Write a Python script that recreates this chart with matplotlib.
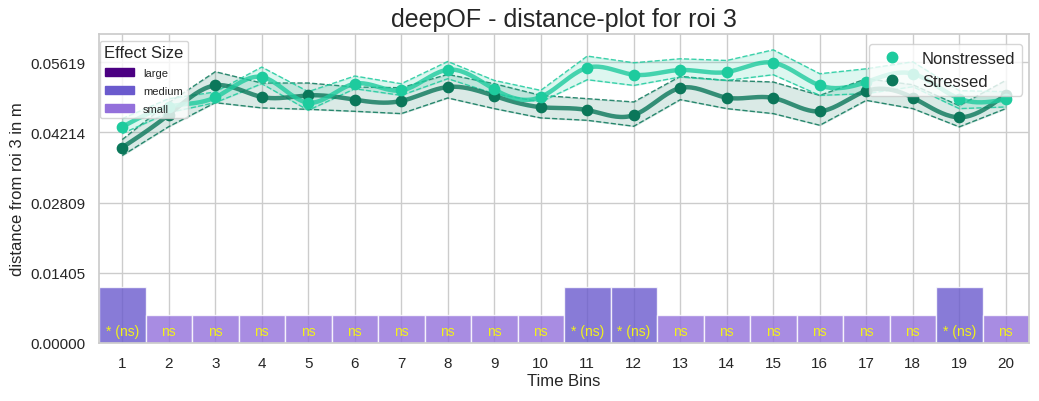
import numpy as np
import matplotlib
matplotlib.use("Agg")
import matplotlib.pyplot as plt
import matplotlib.patches as mpatches
from matplotlib.lines import Line2D
import seaborn as sns

sns.set_theme(style="whitegrid")
plt.rcParams['font.family'] = ['Liberation Sans', 'DejaVu Sans']

# Tidsbinar
bins = list(range(1, 21))

# Nonstressed: medel + konfidensband
ns_mean = [0.04323, 0.04727, 0.04913, 0.05320, 0.04807, 0.05186, 0.05053, 0.05465, 0.05073, 0.04921,
           0.05505, 0.05366, 0.05460, 0.05420, 0.05605, 0.05152, 0.05220, 0.05386, 0.04887, 0.04873]
ns_upper = [0.04488, 0.04887, 0.05021, 0.05519, 0.05027, 0.05340, 0.05186, 0.05631, 0.05252, 0.05053,
            0.05739, 0.05605, 0.05685, 0.05651, 0.05864, 0.05386, 0.05485, 0.05625, 0.05047, 0.05027]
ns_lower = [0.04189, 0.04608, 0.04807, 0.05186, 0.04654, 0.05086, 0.04953, 0.05286, 0.04987, 0.04821,
            0.05266, 0.05152, 0.05320, 0.05252, 0.05366, 0.04953, 0.04987, 0.05126, 0.04688, 0.04721]

# Stressed: medel + konfidensband
st_mean = [0.03910, 0.04568, 0.05152, 0.04921, 0.04953, 0.04867, 0.04841, 0.05120, 0.04941, 0.04717,
           0.04658, 0.04558, 0.05100, 0.04907, 0.04901, 0.04634, 0.05041, 0.04907, 0.04514, 0.04967]
st_upper = [0.04069, 0.04807, 0.05426, 0.05200, 0.05200, 0.05120, 0.05106, 0.05372, 0.05186, 0.04953,
            0.04887, 0.04821, 0.05332, 0.05252, 0.05220, 0.04953, 0.05286, 0.05166, 0.04747, 0.05252]
st_lower = [0.03750, 0.04328, 0.04807, 0.04702, 0.04674, 0.04634, 0.04588, 0.04901, 0.04688, 0.04502,
            0.04454, 0.04335, 0.04867, 0.04688, 0.04588, 0.04355, 0.04853, 0.04688, 0.04323, 0.04688]

# Effektstorlek per bin
effect = ["medium", "small", "small", "small", "small", "small", "small", "small", "small", "small",
          "medium", "medium", "small", "small", "small", "small", "small", "small", "medium", "small"]
bar_labels = ["* (ns)", "ns", "ns", "ns", "ns", "ns", "ns", "ns", "ns", "ns",
              "* (ns)", "* (ns)", "ns", "ns", "ns", "ns", "ns", "ns", "* (ns)", "ns"]
effect_height = {"small": 0.00562, "medium": 0.01124, "large": 0.01686}
effect_color = {"large": "#4B0082", "medium": "#6A5ACD", "small": "#9370DB"}

yticks = [0.0, 0.01405, 0.02809, 0.04214, 0.05619]

col_ns = "#1ECB9E"
col_st = "#0B775A"


def smooth(x, y, n=400):
    """Naturlig kubisk spline genom punkterna (endast för utritning)."""
    x = np.asarray(x, float)
    y = np.asarray(y, float)
    k = len(x)
    h = np.diff(x)
    A = np.zeros((k, k))
    b = np.zeros(k)
    A[0, 0] = A[-1, -1] = 1
    for i in range(1, k - 1):
        A[i, i - 1] = h[i - 1]
        A[i, i] = 2 * (h[i - 1] + h[i])
        A[i, i + 1] = h[i]
        b[i] = 3 * ((y[i + 1] - y[i]) / h[i] - (y[i] - y[i - 1]) / h[i - 1])
    c = np.linalg.solve(A, b)
    xs = np.linspace(x[0], x[-1], n)
    idx = np.clip(np.searchsorted(x, xs) - 1, 0, k - 2)
    dx = xs - x[idx]
    bb = (y[idx + 1] - y[idx]) / h[idx] - h[idx] * (2 * c[idx] + c[idx + 1]) / 3
    dd = (c[idx + 1] - c[idx]) / (3 * h[idx])
    ys = y[idx] + bb * dx + c[idx] * dx ** 2 + dd * dx ** 3
    return xs, ys


fig = plt.figure(figsize=(10.39, 4.02), dpi=100)
ax = fig.add_axes([0.0953, 0.1443, 0.8951, 0.7686])

# Staplar för effektstorlek
for x, e, lab in zip(bins, effect, bar_labels):
    ax.bar(x, effect_height[e], width=1.0, color=effect_color[e], alpha=0.8,
           edgecolor="white", linewidth=1, zorder=2)
    ax.text(x, 0.0024, lab, ha="center", va="center", color="#F2F21A", fontsize=10, zorder=3)

# Linjer med konfidensband
for mean, up, lo, col in [(st_mean, st_upper, st_lower, col_st), (ns_mean, ns_upper, ns_lower, col_ns)]:
    ax.fill_between(bins, lo, up, color=col, alpha=0.15, zorder=3)
    ax.plot(bins, up, "--", color=col, lw=1, alpha=0.85, zorder=3)
    ax.plot(bins, lo, "--", color=col, lw=1, alpha=0.85, zorder=3)
    xs, ys = smooth(bins, mean)
    ax.plot(xs, ys, color=col, lw=3.2, alpha=0.8, zorder=4)
    ax.scatter(bins, mean, color=col, s=55, zorder=5)

ax.set_xlim(0.5, 20.5)
ax.set_ylim(0, 0.0618)
ax.set_xticks(bins)
ax.set_yticks(yticks)
ax.set_yticklabels([f"{v:.5f}" for v in yticks])
ax.tick_params(labelsize=11)
ax.set_xlabel("Time Bins", fontsize=12, labelpad=2)
ax.set_ylabel("distance from roi 3 in m", fontsize=12)
ax.set_title("deepOF - distance-plot for roi 3", fontsize=18)

# Legender
es_handles = [mpatches.Patch(color=effect_color[k], label=k) for k in ["large", "medium", "small"]]
leg1 = ax.legend(handles=es_handles, title="Effect Size", loc="upper left",
                 bbox_to_anchor=(0.001, 0.978), borderaxespad=0, fontsize=8,
                 title_fontsize=12, handlelength=2.6, labelspacing=0.7)
ax.add_artist(leg1)
grp_handles = [Line2D([], [], marker="o", ls="", color=col_ns, markersize=7.5, label="Nonstressed"),
               Line2D([], [], marker="o", ls="", color=col_st, markersize=7.5, label="Stressed")]
ax.legend(handles=grp_handles, loc="upper right", bbox_to_anchor=(0.9925, 0.968),
          borderaxespad=0, fontsize=12)

fig.savefig("out.png", dpi=100)
